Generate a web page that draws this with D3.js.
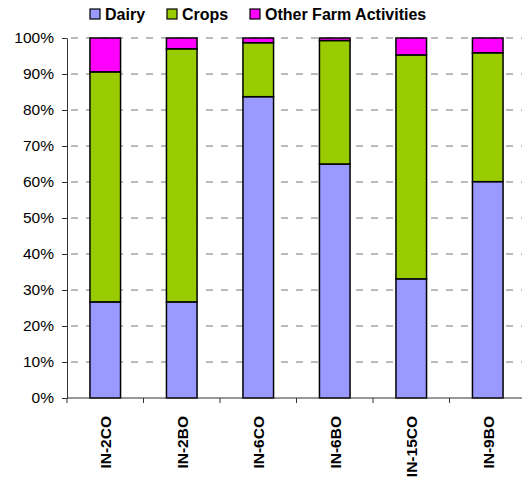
<!DOCTYPE html>
<html>
<head>
<meta charset="utf-8">
<script src="https://cdn.jsdelivr.net/npm/d3@7"></script>
<style>
  body { margin: 0; background: #fff; }
  svg { display: block; font-family: Arial, "Liberation Sans", sans-serif; }
</style>
</head>
<body>
<script>
const sites = ['IN-2CO', 'IN-2BO', 'IN-6CO', 'IN-6BO', 'IN-15CO', 'IN-9BO'];
const dairy = [26.7, 26.7, 83.7, 65.0, 33.1, 60.1];
const crops = [63.9, 70.3, 15.0, 34.3, 62.2, 35.8];
const other = [9.4, 3.0, 1.3, 0.7, 4.7, 4.1];
const seriesNames = ['Dairy', 'Crops', 'Other Farm Activities'];
const colors = ['#9999ff', '#99cc00', '#ff00ff'];
const yTicks = [0, 10, 20, 30, 40, 50, 60, 70, 80, 90, 100];

const W = 522, H = 479;
const plot = { left: 67, right: 526, top: 38, bottom: 398 };

const rows = sites.map((s, i) => ({ site: s, Dairy: dairy[i], Crops: crops[i], 'Other Farm Activities': other[i] }));
const stacked = d3.stack().keys(seriesNames)(rows);

const x = d3.scaleBand().domain(sites).range([plot.left, plot.right]).paddingInner(0.6).paddingOuter(0.3);
const xTick = d3.scaleBand().domain(sites).range([plot.left, plot.right]);
const y = d3.scaleLinear().domain([0, 100]).range([plot.bottom, plot.top]);

const svg = d3.select('body').append('svg')
  .attr('width', W)
  .attr('height', H);

// gridlines
svg.append('g')
  .selectAll('line')
  .data(yTicks.filter(d => d > 0))
  .enter().append('line')
  .attr('x1', plot.left).attr('x2', plot.right)
  .attr('y1', d => y(d)).attr('y2', d => y(d))
  .attr('stroke', '#777')
  .attr('stroke-width', 1)
  .attr('stroke-dasharray', '7,8')
  .attr('stroke-dashoffset', -4);

// bars
svg.append('g')
  .selectAll('g')
  .data(stacked)
  .enter().append('g')
  .attr('fill', (d, i) => colors[i])
  .selectAll('rect')
  .data(d => d)
  .enter().append('rect')
  .attr('x', d => x(d.data.site))
  .attr('width', x.bandwidth())
  .attr('y', d => y(d[1]))
  .attr('height', d => y(d[0]) - y(d[1]))
  .attr('stroke', '#000')
  .attr('stroke-width', 1.5);

// y axis
const yAxis = svg.append('g')
  .attr('transform', `translate(${plot.left},0)`)
  .call(d3.axisLeft(y).tickValues(yTicks).tickFormat(d => d + '%').tickSize(5).tickSizeOuter(0));
yAxis.select('.domain').attr('stroke', '#333');
yAxis.selectAll('.tick line').attr('stroke', '#333');
yAxis.selectAll('.tick text')
  .attr('x', -13)
  .attr('fill', '#000')
  .style('font-size', '15.5px')
  .style('font-family', 'Arial, "Liberation Sans", sans-serif');

// x axis with boundary ticks
const xAxisG = svg.append('g');
xAxisG.append('line')
  .attr('x1', plot.left).attr('x2', plot.right)
  .attr('y1', plot.bottom).attr('y2', plot.bottom)
  .attr('stroke', '#333');
xAxisG.selectAll('line.tk')
  .data(sites)
  .enter().append('line')
  .attr('class', 'tk')
  .attr('x1', d => xTick(d)).attr('x2', d => xTick(d))
  .attr('y1', plot.bottom).attr('y2', plot.bottom + 5)
  .attr('stroke', '#333');
xAxisG.selectAll('text')
  .data(sites)
  .enter().append('text')
  .attr('transform', d => `translate(${x(d) + x.bandwidth() / 2 + 6},416) rotate(-90)`)
  .attr('text-anchor', 'end')
  .style('font-size', '15.5px')
  .style('font-weight', 'bold')
  .text(d => d);

// legend
const legendX = [90, 167, 250];
const legend = svg.append('g')
  .selectAll('g')
  .data(seriesNames)
  .enter().append('g')
  .attr('transform', (d, i) => `translate(${legendX[i]},9)`);
legend.append('rect')
  .attr('width', 10).attr('height', 10)
  .attr('fill', (d, i) => colors[i])
  .attr('stroke', '#000')
  .attr('stroke-width', 1.2);
legend.append('text')
  .attr('x', 15).attr('y', 11)
  .style('font-size', '16px')
  .style('font-weight', 'bold')
  .text(d => d);
</script>
</body>
</html>
